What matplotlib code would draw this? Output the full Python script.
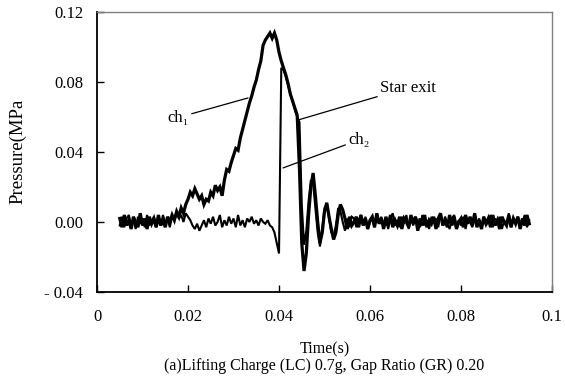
import numpy as np
import matplotlib.pyplot as plt

plt.rcParams['font.family'] = ['Liberation Serif', 'DejaVu Serif']

# sampling: 0.005 s to 0.095 s every 0.5 ms
t = np.arange(181) * 0.0005 + 0.005

# ch1 pressure in kPa
ch1_base = [2, -3, 4, -2, 1, -4, 3, 0, -3, 5, -2, 2, -4, 3, -1, 2, -3, 4, -2, 1, -3, 3, 0]
ch1_rise = [4, 1, 6, 3, 8, 5, 10, 13,
            17, 15, 19, 16, 13, 15, 10, 13, 12, 17, 15, 21, 18, 20, 15, 24]
ch1_peak = [30, 29, 34, 38, 42, 41, 48, 53, 58, 63, 68, 72, 77, 81, 87, 92,
            101, 104, 106, 108, 105, 108, 104, 97, 92, 88, 84, 79, 73, 69, 65, 61,
            30, -12, -28, -18, 4, 20, 28, 15, 0, -12, -6, 6, 11, 3, -4, -10,
            -6, 4, 10, 7, 2, -4, 3, -2]
ch1_tail = [0, 3, -3, 4, -2, 2, -4, 1, 3, -3, 5, -1, 2, -4, 3, -2, 4, -3, 1, -2,
            3, -4, 2, 0, -3, 4, -1, 3, -5, 2, -2, 4, -3, 1, -1, 3, -4, 2, 5, -2,
            1, -3, 4, -2, 3, -4, 0, 2, -3, 4, -1, 3, -2, 5, -3, 1, -4, 3, -1, 2,
            -3, 4, -2, 1, -4, 3, 0, -2, 4, -3, 2, -1, 3, -4, 2, -2, 4, -1]

# ch2 pressure in kPa
ch2_base = [-2, 3, -3, 2, 4, -2, 1, -4, 3, -1, 2, -3, 4, -2, 0, 3, -3, 1, -2, 4,
            -1, 2, -3, 3, 1, 5, 2, 4, 0, 5, 3, 1, -2, -4, -1, -5, -2, 1, -3, 2,
            -1, 3, -2, 0, 4, -3, 1, -2, 3, -1, 2, -3, 4, -2, 1, -3, 2, 0, 3, -1,
            1, -2, 2, 0, -1, 1, -2, -3, -6]
ch2_wave = [-12, -18, 88, 87, 83, 78, 73, 69, 64, 60,
            57, 10, -13, -5, 12, 24, 22, 8, -6, -14,
            -4, 8, 10, 2, -6, -8, -2, 8, 6, 0, -5, 2, -3, 3]
ch2_tail = [2, -3, 1, 4, -2, 3, -4, 0, 2, -3, 4, -1, 3, -3, 1, -4, 2, 5, -2, 1,
            -3, 3, -1, 4, -4, 2, -2, 3, 0, -3, 4, -2, 1, -4, 3, -1, 2, -3, 5, -2,
            3, -1, -4, 2, 4, -3, 1, -2, 3, -4, 2, 0, -3, 4, -1, 2, -4, 3, -2, 1,
            4, -3, 2, -1, 3, -4, 1, -2, 5, -3, 2, -1, 3, -2, 0, 4, -3, 1]

ch1 = np.array(ch1_base + ch1_rise + ch1_peak + ch1_tail) / 1000.0
ch2 = np.array(ch2_base + ch2_wave + ch2_tail) / 1000.0

x_ticks = [0, 0.02, 0.04, 0.06, 0.08, 0.1]
x_labels = ['0', '0.02', '0.04', '0.06', '0.08', '0.1']
y_ticks = [-0.04, 0.0, 0.04, 0.08, 0.12]
y_labels = ['- 0.04', '0.00', '0.04', '0.08', '0.12']

fig = plt.figure(figsize=(5.65, 3.79), dpi=100)
ax = fig.add_axes([0.1717, 0.2296, 0.8053, 0.7387])

ax.plot(t, ch2, color='black', lw=1.5, solid_joinstyle='miter')
ax.plot(t, ch1, color='black', lw=2.3, solid_joinstyle='miter')

ax.set_xlim(0, 0.1)
ax.set_ylim(-0.04, 0.12)
ax.set_xticks(x_ticks)
ax.set_xticklabels(x_labels)
ax.set_yticks(y_ticks)
ax.set_yticklabels(y_labels)
ax.tick_params(direction='in', length=5, width=1, labelsize=12)
ax.tick_params(axis='x', pad=12)
ax.tick_params(axis='y', pad=10)
ax.tick_params(top=False, right=False)

for s in ['left', 'bottom']:
    ax.spines[s].set_color('black')
    ax.spines[s].set_linewidth(1.3)
for s in ['top', 'right']:
    ax.spines[s].set_color('#7f7f7f')
    ax.spines[s].set_linewidth(1.0)

# labels on the curves
line = dict(arrowstyle='-', color='black', lw=0.9, shrinkA=0, shrinkB=0)
ax.annotate('ch₁', xy=(0.0332, 0.0709), xytext=(0.0202, 0.0597),
            ha='right', va='center', fontsize=12, arrowprops=line)
ax.annotate('Star exit', xy=(0.0442, 0.0583), xytext=(0.0622, 0.0768),
            ha='left', va='center', fontsize=12, arrowprops=line)
ax.annotate('ch₂', xy=(0.0409, 0.0309), xytext=(0.0552, 0.0469),
            ha='left', va='center', fontsize=12, arrowprops=line)

fig.text(0.1717 + 0.8053 / 2, 0.079, 'Time(s)', ha='center', va='center', fontsize=11.5)
fig.text(0.1717 + 0.8053 / 2, 0.034, '(a)Lifting Charge (LC) 0.7g, Gap Ratio (GR) 0.20',
         ha='center', va='center', fontsize=11.5)
fig.text(0.032, 0.6, 'Pressure(MPa', rotation=90, ha='center', va='center', fontsize=13.5)

fig.savefig('out.png', dpi=100)
